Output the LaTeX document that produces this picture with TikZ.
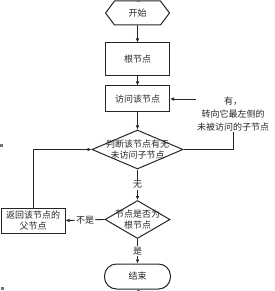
\documentclass[tikz,border=0pt]{standalone}
\usepackage{fontspec}
\newfontfamily\cjk{Noto Sans CJK SC}
\usetikzlibrary{shapes.geometric,shapes.symbols,arrows.meta}
\begin{document}
\begin{tikzpicture}[x=1pt,y=-1pt,
  every node/.style={font=\cjk\fontsize{9}{11.5}\selectfont, inner sep=0pt, text=black!85},
  box/.style={draw=black!85, line width=1pt, rectangle, minimum width=64pt, align=center},
  dia/.style={draw=black!85, line width=1pt, diamond},
  hexa/.style={draw=black!85, line width=1pt, signal, signal to=west and east, signal pointer angle=106, minimum width=64pt, minimum height=24pt},
  term/.style={draw=black!85, line width=1pt, rectangle, rounded corners=12pt, minimum width=66pt, minimum height=25pt},
  arr/.style={-{Latex[length=4pt,width=3.6pt]}, line width=0.9pt, draw=black!85},
  lbl/.style={fill=white, inner sep=1pt},
  handle/.style={fill=black!55, draw=none}]
\useasboundingbox (0,0) rectangle (274,291);

\node[hexa] (start) at (137.5,13) {开始};
\node[box, minimum height=33pt] (root) at (137.5,59.5) {根节点};
\node[box, minimum height=26pt] (visit) at (137.5,99) {访问该节点};
\node[dia, minimum width=91pt, minimum height=39pt] (d1) at (137.5,149.5) {};
\node[align=center] (d1t) at (d1) {判断该节点有无\\未访问子节点};
\node[dia, minimum width=65pt, minimum height=38pt] (d2) at (137.5,219.5) {};
\node[align=center] (d2t) at (d2) {节点是否为\\根节点};
\node[box, minimum height=25pt] (back) at (33,220.5) {返回该节点的\\父节点};
\node[term] (endn) at (137.5,276.5) {结束};

\coordinate (rc) at (233,149.5);
\coordinate (rt) at (233,99);

\draw[arr] (start) -- (root);
\draw[arr] (root) -- (visit);
\draw[arr] (visit) -- (d1);
\draw[arr] (d1) -- node[lbl] (no) {无} (d2);
\draw[arr] (d2) -- node[lbl] (yes) {是} (endn);
\draw[arr] (d2.west) -- node[lbl] (notyes) {不是} (back.east);
\draw[arr] (back.north) |- (d1.west);
\draw[arr] (d1.east) -- (rc) -- (rt) -- (visit.east);
\node[lbl, align=center, font=\cjk\fontsize{9}{13}\selectfont] (have) at (233,114) {有，\\转向它最左侧的\\未被访问的子节点};

\fill[handle] (136.5,0) rectangle (139.5,2.5);
\fill[handle] (0,143.5) rectangle (2.5,146.5);
\fill[handle] (0.5,286.5) rectangle (3.5,289.5);
\fill[handle] (136.5,288.5) rectangle (139.5,291);
\end{tikzpicture}
\end{document}
